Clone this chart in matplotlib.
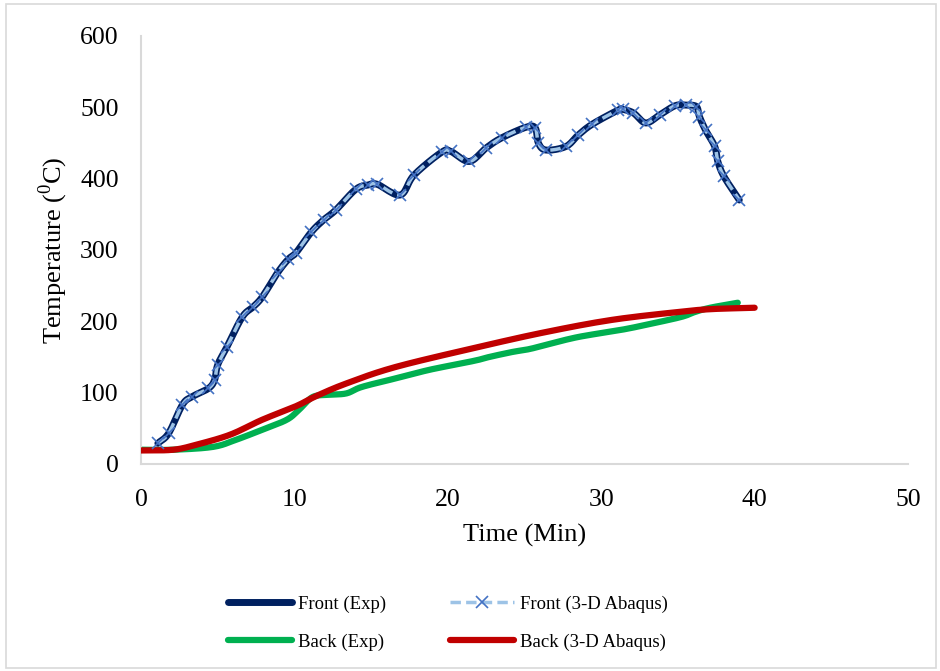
import numpy as np
import matplotlib.pyplot as plt
from matplotlib.patches import Rectangle

# Front face temperature
front_time = [1.1, 1.8, 2.7, 3.3, 4.4, 4.8, 5.0, 5.6, 6.6, 7.3, 7.9, 8.9, 9.6, 10.1,
              11.1, 11.9, 12.7, 14.0, 14.8, 15.4, 16.9, 17.8, 19.6, 20.2, 21.4, 22.5,
              23.5, 25.1, 25.7, 25.9, 26.4, 27.7, 28.5, 29.4, 31.1, 31.4, 32.1, 32.9,
              33.8, 34.8, 35.5, 36.2, 36.4, 36.8, 37.4, 37.6, 38.0, 39.0]
front_exp = [29, 43, 83, 94, 106, 118, 139, 164, 206, 220, 234, 268, 287, 296,
             325, 342, 356, 385, 391, 392, 377, 405, 437, 438, 424, 443,
             457, 472, 471, 450, 440, 445, 461, 476, 496, 497, 492, 478,
             489, 502, 503, 501, 487, 468, 445, 424, 403, 370]
front_abaqus = [29, 43, 83, 94, 106, 118, 139, 164, 206, 220, 234, 268, 287, 296,
                325, 342, 356, 385, 391, 392, 377, 405, 437, 438, 424, 443,
                457, 472, 471, 450, 440, 445, 461, 476, 496, 497, 492, 478,
                489, 502, 503, 501, 487, 468, 445, 424, 403, 370]

# Back face temperature
back_exp_time = [0, 2.1, 4.7, 6.2, 7.9, 9.5, 10.3, 11.2, 12.3, 13.4, 14.4, 16.6, 18.8,
                 20.9, 22.0, 22.7, 24.2, 25.3, 26.4, 28.5, 31.3, 32.9, 35.2, 36.1,
                 37.1, 38.9]
back_exp = [20, 20, 24, 34, 48, 62, 76, 94, 97, 99, 108, 120, 132,
            141, 146, 150, 157, 161, 167, 178, 188, 195, 206, 213,
            219, 226]
back_abaqus_time = [0, 2.1, 3.6, 5.8, 7.9, 10.1, 11.4, 13.4, 16.6, 22.0, 26.4, 30.7,
                    35.0, 37.1, 40.0]
back_abaqus = [19, 20, 27, 41, 62, 81, 95, 113, 136, 164, 185, 202,
               213, 217, 219]


def smooth(x, y, n=12):
    # Catmull-Rom curve through the points, like Excel's "smoothed line"
    x = np.asarray(x, float)
    y = np.asarray(y, float)
    px = np.concatenate([[2 * x[0] - x[1]], x, [2 * x[-1] - x[-2]]])
    py = np.concatenate([[2 * y[0] - y[1]], y, [2 * y[-1] - y[-2]]])
    t = np.linspace(0, 1, n, endpoint=False)
    ox, oy = [], []
    for i in range(1, len(px) - 2):
        for p, o in ((px, ox), (py, oy)):
            p0, p1, p2, p3 = p[i - 1], p[i], p[i + 1], p[i + 2]
            o.extend(0.5 * (2 * p1 + (-p0 + p2) * t + (2 * p0 - 5 * p1 + 4 * p2 - p3) * t ** 2
                            + (-p0 + 3 * p1 - 3 * p2 + p3) * t ** 3))
    ox.append(x[-1])
    oy.append(y[-1])
    return ox, oy


plt.rcParams['font.family'] = ['Liberation Serif', 'DejaVu Serif']
plt.rcParams['mathtext.fontset'] = 'custom'
plt.rcParams['mathtext.rm'] = 'Liberation Serif'

fig = plt.figure(figsize=(9.4, 6.71), dpi=100)
ax = fig.add_axes([0.150, 0.3085, 0.816, 0.638])

sx, sy = smooth(front_time, front_exp)
ax.plot(sx, sy, color='#002060', linewidth=5, solid_capstyle='round', zorder=3)
sx, sy = smooth(front_time, front_abaqus)
ax.plot(sx, sy, color='#9DC3E6', linewidth=2.5, linestyle=(0, (3, 1.5)), zorder=4)
ax.plot(front_time, front_abaqus, linestyle='', marker='x', markersize=9,
        markeredgecolor='#4472C4', markeredgewidth=1.2, zorder=5)
sx, sy = smooth(back_exp_time, back_exp)
ax.plot(sx, sy, color='#00B050', linewidth=4.5, solid_capstyle='round', zorder=2)
sx, sy = smooth(back_abaqus_time, back_abaqus)
ax.plot(sx, sy, color='#C00000', linewidth=4.5, solid_capstyle='round', zorder=3)

ax.set_xlim(0, 50)
ax.set_ylim(0, 600)
ax.set_xticks(range(0, 51, 10))
ax.set_yticks(range(0, 601, 100))
ax.tick_params(length=0, labelsize=18.5)
ax.tick_params(axis='x', pad=18)
ax.tick_params(axis='y', pad=16)
for s in ['top', 'right']:
    ax.spines[s].set_visible(False)
for s in ['left', 'bottom']:
    ax.spines[s].set_color('#D9D9D9')
    ax.spines[s].set_linewidth(1.5)

ax.set_xlabel('Time (Min)', fontsize=19, labelpad=9)
ax.set_ylabel('Temperature ($^{0}$C)', fontsize=19, labelpad=7)

# legend proxies
h1, = ax.plot([], [], color='#002060', linewidth=5, solid_capstyle='round')
h2, = ax.plot([], [], color='#9DC3E6', linewidth=2.5, linestyle=(0, (3, 1.5)), marker='x',
              markersize=9, markeredgecolor='#4472C4', markeredgewidth=1.2)
h3, = ax.plot([], [], color='#00B050', linewidth=4.5, solid_capstyle='round')
h4, = ax.plot([], [], color='#C00000', linewidth=4.5, solid_capstyle='round')
fig.legend([h1, h3, h2, h4], ['Front (Exp)', 'Back (Exp)', 'Front (3-D Abaqus)', 'Back (3-D Abaqus)'],
           ncol=2, loc='center', bbox_to_anchor=(0.4765, 0.071), frameon=False, fontsize=13.5,
           handlelength=3.4, columnspacing=3.45, handletextpad=0.3, labelspacing=1.1,
           numpoints=1)

fig.patches.append(Rectangle((0.006, 0.004), 0.99, 0.99, transform=fig.transFigure,
                             fill=False, edgecolor='#D9D9D9', linewidth=1.2))

fig.savefig('out.png', dpi=100)
